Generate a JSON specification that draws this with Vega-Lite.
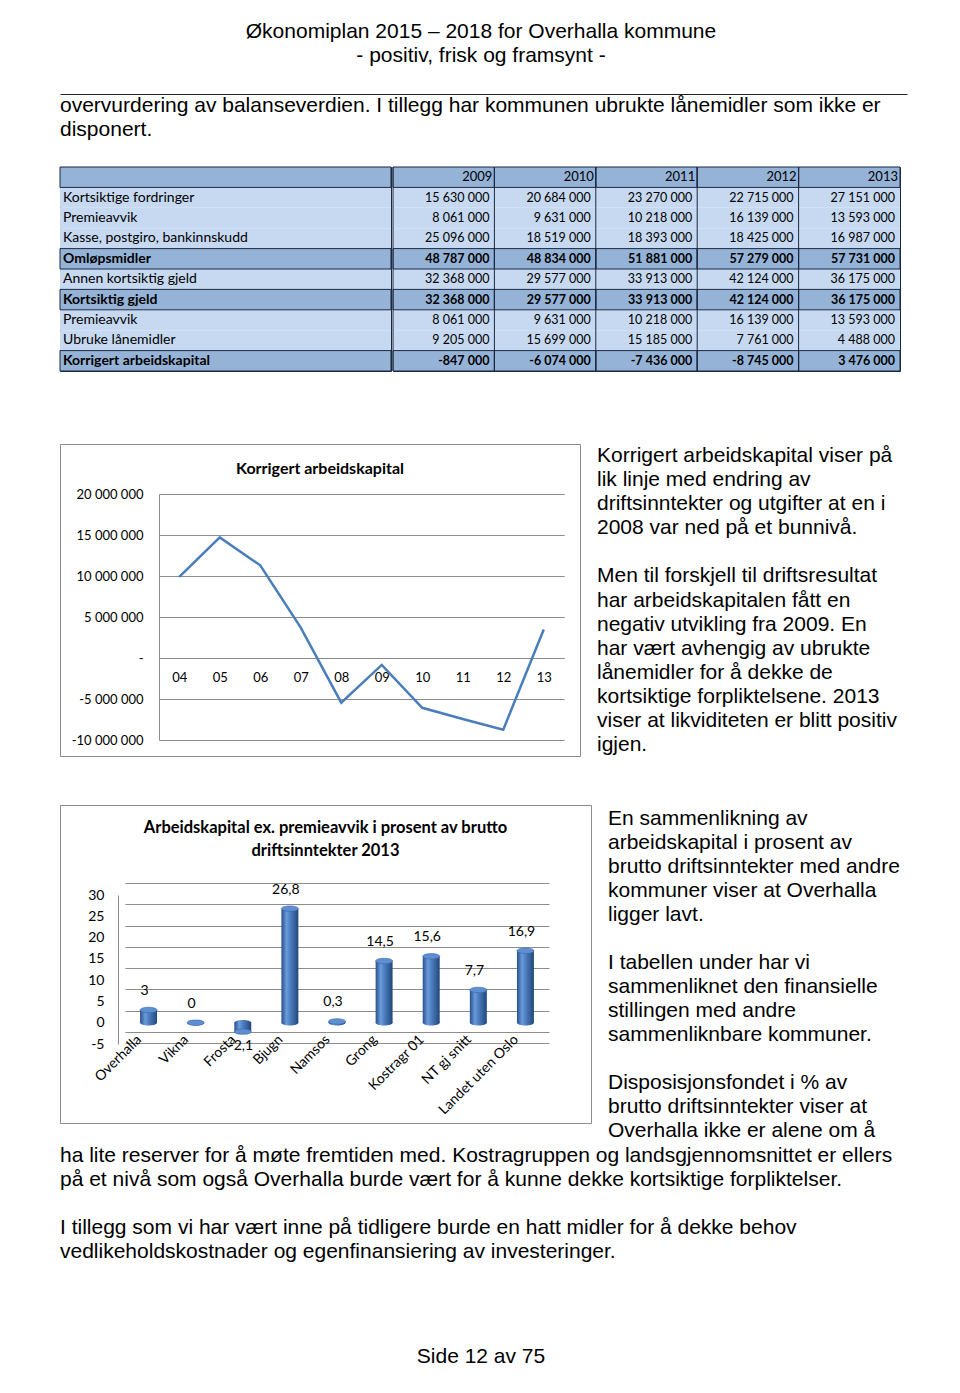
{
  "$schema": "https://vega.github.io/schema/vega-lite/v6.json",
  "padding": {"left": 59, "top": 20, "right": 0, "bottom": 0},
  "background": "white",
  "spacing": 0,
  "config": {
    "view": {"stroke": null},
    "locale": {"number": {"decimal": ",", "thousands": " ", "grouping": [3], "currency": ["", " kr"], "minus": "-"}},
    "axis": {"labelFont": "Lato", "labelColor": "#000", "title": null}
  },
  "datasets": {
    "t_header": [
      {"i": 0, "t": "Økonomiplan 2015 – 2018 for Overhalla kommune"},
      {"i": 1, "t": "- positiv, frisk og framsynt -"}
    ],
    "t_body": [
      {"i": 0, "t": "overvurdering av balanseverdien. I tillegg har kommunen ubrukte lånemidler som ikke er"},
      {"i": 1, "t": "disponert."}
    ],
    "t_right1": [
      {"i": 0, "t": "Korrigert arbeidskapital viser på"},
      {"i": 1, "t": "lik linje med endring av"},
      {"i": 2, "t": "driftsinntekter og utgifter at en i"},
      {"i": 3, "t": "2008 var ned på et bunnivå."},
      {"i": 4, "t": ""},
      {"i": 5, "t": "Men til forskjell til driftsresultat"},
      {"i": 6, "t": "har arbeidskapitalen fått en"},
      {"i": 7, "t": "negativ utvikling fra 2009. En"},
      {"i": 8, "t": "har vært avhengig av ubrukte"},
      {"i": 9, "t": "lånemidler for å dekke de"},
      {"i": 10, "t": "kortsiktige forpliktelsene. 2013"},
      {"i": 11, "t": "viser at likviditeten er blitt positiv"},
      {"i": 12, "t": "igjen."}
    ],
    "t_right2": [
      {"i": 0, "t": "En sammenlikning av"},
      {"i": 1, "t": "arbeidskapital i prosent av"},
      {"i": 2, "t": "brutto driftsinntekter med andre"},
      {"i": 3, "t": "kommuner viser at Overhalla"},
      {"i": 4, "t": "ligger lavt."},
      {"i": 5, "t": ""},
      {"i": 6, "t": "I tabellen under har vi"},
      {"i": 7, "t": "sammenliknet den finansielle"},
      {"i": 8, "t": "stillingen med andre"},
      {"i": 9, "t": "sammenliknbare kommuner."},
      {"i": 10, "t": ""},
      {"i": 11, "t": "Disposisjonsfondet i % av"},
      {"i": 12, "t": "brutto driftsinntekter viser at"},
      {"i": 13, "t": "Overhalla ikke er alene om å"}
    ],
    "t_bottom": [
      {"i": 0, "t": "ha lite reserver for å møte fremtiden med. Kostragruppen og landsgjennomsnittet er ellers"},
      {"i": 1, "t": "på et nivå som også Overhalla burde vært for å kunne dekke kortsiktige forpliktelser."},
      {"i": 2, "t": ""},
      {"i": 3, "t": "I tillegg som vi har vært inne på tidligere burde en hatt midler for å dekke behov"},
      {"i": 4, "t": "vedlikeholdskostnader og egenfinansiering av investeringer."}
    ],
    "t_footer": [
      {"i": 0, "t": "Side 12 av 75"}
    ],
    "rows": [
      {"r": 0, "label": "", "kind": "h"},
      {"r": 1, "label": "Kortsiktige fordringer", "kind": "n"},
      {"r": 2, "label": "Premieavvik", "kind": "n"},
      {"r": 3, "label": "Kasse, postgiro, bankinnskudd", "kind": "n"},
      {"r": 4, "label": "Omløpsmidler", "kind": "b"},
      {"r": 5, "label": "Annen kortsiktig gjeld", "kind": "n"},
      {"r": 6, "label": "Kortsiktig gjeld", "kind": "b"},
      {"r": 7, "label": "Premieavvik", "kind": "n"},
      {"r": 8, "label": "Ubruke lånemidler", "kind": "n"},
      {"r": 9, "label": "Korrigert arbeidskapital", "kind": "b"}
    ],
    "celler": [
      {"r": 0, "aar": "2009", "kind": "h"},
      {"r": 0, "aar": "2010", "kind": "h"},
      {"r": 0, "aar": "2011", "kind": "h"},
      {"r": 0, "aar": "2012", "kind": "h"},
      {"r": 0, "aar": "2013", "kind": "h"},
      {"r": 1, "aar": "2009", "v": 15630000, "kind": "n"},
      {"r": 1, "aar": "2010", "v": 20684000, "kind": "n"},
      {"r": 1, "aar": "2011", "v": 23270000, "kind": "n"},
      {"r": 1, "aar": "2012", "v": 22715000, "kind": "n"},
      {"r": 1, "aar": "2013", "v": 27151000, "kind": "n"},
      {"r": 2, "aar": "2009", "v": 8061000, "kind": "n"},
      {"r": 2, "aar": "2010", "v": 9631000, "kind": "n"},
      {"r": 2, "aar": "2011", "v": 10218000, "kind": "n"},
      {"r": 2, "aar": "2012", "v": 16139000, "kind": "n"},
      {"r": 2, "aar": "2013", "v": 13593000, "kind": "n"},
      {"r": 3, "aar": "2009", "v": 25096000, "kind": "n"},
      {"r": 3, "aar": "2010", "v": 18519000, "kind": "n"},
      {"r": 3, "aar": "2011", "v": 18393000, "kind": "n"},
      {"r": 3, "aar": "2012", "v": 18425000, "kind": "n"},
      {"r": 3, "aar": "2013", "v": 16987000, "kind": "n"},
      {"r": 4, "aar": "2009", "v": 48787000, "kind": "b"},
      {"r": 4, "aar": "2010", "v": 48834000, "kind": "b"},
      {"r": 4, "aar": "2011", "v": 51881000, "kind": "b"},
      {"r": 4, "aar": "2012", "v": 57279000, "kind": "b"},
      {"r": 4, "aar": "2013", "v": 57731000, "kind": "b"},
      {"r": 5, "aar": "2009", "v": 32368000, "kind": "n"},
      {"r": 5, "aar": "2010", "v": 29577000, "kind": "n"},
      {"r": 5, "aar": "2011", "v": 33913000, "kind": "n"},
      {"r": 5, "aar": "2012", "v": 42124000, "kind": "n"},
      {"r": 5, "aar": "2013", "v": 36175000, "kind": "n"},
      {"r": 6, "aar": "2009", "v": 32368000, "kind": "b"},
      {"r": 6, "aar": "2010", "v": 29577000, "kind": "b"},
      {"r": 6, "aar": "2011", "v": 33913000, "kind": "b"},
      {"r": 6, "aar": "2012", "v": 42124000, "kind": "b"},
      {"r": 6, "aar": "2013", "v": 36175000, "kind": "b"},
      {"r": 7, "aar": "2009", "v": 8061000, "kind": "n"},
      {"r": 7, "aar": "2010", "v": 9631000, "kind": "n"},
      {"r": 7, "aar": "2011", "v": 10218000, "kind": "n"},
      {"r": 7, "aar": "2012", "v": 16139000, "kind": "n"},
      {"r": 7, "aar": "2013", "v": 13593000, "kind": "n"},
      {"r": 8, "aar": "2009", "v": 9205000, "kind": "n"},
      {"r": 8, "aar": "2010", "v": 15699000, "kind": "n"},
      {"r": 8, "aar": "2011", "v": 15185000, "kind": "n"},
      {"r": 8, "aar": "2012", "v": 7761000, "kind": "n"},
      {"r": 8, "aar": "2013", "v": 4488000, "kind": "n"},
      {"r": 9, "aar": "2009", "v": -847000, "kind": "b"},
      {"r": 9, "aar": "2010", "v": -6074000, "kind": "b"},
      {"r": 9, "aar": "2011", "v": -7436000, "kind": "b"},
      {"r": 9, "aar": "2012", "v": -8745000, "kind": "b"},
      {"r": 9, "aar": "2013", "v": 3476000, "kind": "b"}
    ],
    "linje": [
      {"aar": "04", "verdi": 9900000},
      {"aar": "05", "verdi": 14700000},
      {"aar": "06", "verdi": 11300000},
      {"aar": "07", "verdi": 3700000},
      {"aar": "08", "verdi": -5450000},
      {"aar": "09", "verdi": -847000},
      {"aar": "10", "verdi": -6074000},
      {"aar": "11", "verdi": -7436000},
      {"aar": "12", "verdi": -8745000},
      {"aar": "13", "verdi": 3476000}
    ],
    "stolper": [
      {"kommune": "Overhalla", "v": 3},
      {"kommune": "Vikna", "v": 0},
      {"kommune": "Frosta", "v": -2.1},
      {"kommune": "Bjugn", "v": 26.8},
      {"kommune": "Namsos", "v": 0.3},
      {"kommune": "Grong", "v": 14.5},
      {"kommune": "Kostragr 01", "v": 15.6},
      {"kommune": "NT gj snitt", "v": 7.7},
      {"kommune": "Landet uten Oslo", "v": 16.9}
    ]
  },
  "vconcat": [
    {
      "width": 842, "height": 48,
      "data": {"name": "t_header"},
      "mark": {"type": "text", "align": "center", "baseline": "middle", "font": "Liberation Sans", "fontSize": 21, "color": "#000"},
      "encoding": {
        "x": {"datum": "c", "type": "nominal", "scale": {"type": "band", "paddingInner": 0, "paddingOuter": 0}, "axis": null, "bandPosition": 0.5},
        "y": {"field": "i", "type": "ordinal", "scale": {"type": "band", "paddingInner": 0, "paddingOuter": 0}, "axis": null, "bandPosition": 0.5},
        "text": {"field": "t"}
      }
    },
    {
      "width": 1, "height": 26,
      "data": {"values": [{}]},
      "mark": {"type": "text", "fontSize": 1},
      "encoding": {"text": {"value": ""}}
    },
    {
      "width": 847, "height": 48,
      "data": {"name": "t_body"},
      "mark": {"type": "text", "align": "left", "baseline": "middle", "font": "Liberation Sans", "fontSize": 21, "color": "#000"},
      "encoding": {
        "x": {"datum": "c", "type": "nominal", "scale": {"type": "band", "paddingInner": 0, "paddingOuter": 0}, "bandPosition": 0,
          "axis": {"orient": "top", "labels": false, "ticks": false, "domain": true, "domainColor": "#222", "domainWidth": 1, "grid": false, "title": null}},
        "y": {"field": "i", "type": "ordinal", "scale": {"type": "band", "paddingInner": 0, "paddingOuter": 0}, "axis": null, "bandPosition": 0.5},
        "text": {"field": "t"}
      }
    },
    {
      "width": 1, "height": 24,
      "data": {"values": [{}]},
      "mark": {"type": "text", "fontSize": 1},
      "encoding": {"text": {"value": ""}}
    },
    {
      "spacing": 0,
      "hconcat": [
        {
          "width": 331, "height": 204,
          "view": {"stroke": "#1b2840", "strokeWidth": 1},
          "data": {"name": "rows"},
          "layer": [
            {
              "mark": {"type": "rect"},
              "encoding": {
                "x": {"datum": "L", "type": "nominal", "scale": {"type": "band", "paddingInner": 0, "paddingOuter": 0}, "axis": null},
                "y": {"field": "r", "type": "ordinal", "scale": {"type": "band", "paddingInner": 0, "paddingOuter": 0}, "axis": null},
                "color": {"field": "kind", "type": "nominal", "scale": {"domain": ["h", "n", "b"], "range": ["#95B3D7", "#C6D9F1", "#95B3D7"]}, "legend": null}
              }
            },
            {
              "transform": [{"filter": "datum.kind !== 'n'"}],
              "mark": {"type": "rect", "filled": false, "color": "#1b2840", "strokeWidth": 1},
              "encoding": {
                "x": {"datum": "L", "type": "nominal"},
                "y": {"field": "r", "type": "ordinal"}
              }
            },
            {
              "transform": [{"filter": "datum.kind === 'n'"}],
              "mark": {"type": "text", "align": "left", "baseline": "middle", "dx": 3, "font": "Lato", "fontSize": 14, "color": "#000"},
              "encoding": {
                "x": {"datum": "L", "type": "nominal", "bandPosition": 0},
                "y": {"field": "r", "type": "ordinal", "bandPosition": 0.5},
                "text": {"field": "label"}
              }
            },
            {
              "transform": [{"filter": "datum.kind === 'b'"}],
              "mark": {"type": "text", "align": "left", "baseline": "middle", "dx": 3, "font": "Lato", "fontSize": 14, "fontWeight": "bold", "color": "#000"},
              "encoding": {
                "x": {"datum": "L", "type": "nominal", "bandPosition": 0},
                "y": {"field": "r", "type": "ordinal", "bandPosition": 0.5},
                "text": {"field": "label"}
              }
            }
          ]
        },
        {
          "width": 507, "height": 204,
          "view": {"stroke": "#1b2840", "strokeWidth": 1},
          "data": {"name": "celler"},
          "layer": [
            {
              "mark": {"type": "rect"},
              "encoding": {
                "x": {"field": "aar", "type": "ordinal", "scale": {"type": "band", "paddingInner": 0, "paddingOuter": 0}, "axis": null},
                "y": {"field": "r", "type": "ordinal", "scale": {"type": "band", "paddingInner": 0, "paddingOuter": 0}, "axis": null},
                "color": {"field": "kind", "type": "nominal", "scale": {"domain": ["h", "n", "b"], "range": ["#95B3D7", "#C6D9F1", "#95B3D7"]}, "legend": null}
              }
            },
            {
              "transform": [{"filter": "datum.kind !== 'n'"}],
              "mark": {"type": "rect", "filled": false, "color": "#1b2840", "strokeWidth": 1},
              "encoding": {
                "x": {"field": "aar", "type": "ordinal"},
                "y": {"field": "r", "type": "ordinal"}
              }
            },
            {
              "transform": [{"filter": "datum.kind === 'h'"}],
              "mark": {"type": "rule", "color": "#1b2840", "strokeWidth": 1},
              "encoding": {
                "x": {"field": "aar", "type": "ordinal", "bandPosition": 0}
              }
            },
            {
              "transform": [{"filter": "datum.kind === 'h'"}],
              "mark": {"type": "text", "align": "right", "baseline": "middle", "dx": -2, "font": "Lato", "fontSize": 13, "color": "#000"},
              "encoding": {
                "x": {"field": "aar", "type": "ordinal", "bandPosition": 1},
                "y": {"field": "r", "type": "ordinal", "bandPosition": 0.5},
                "text": {"field": "aar"}
              }
            },
            {
              "transform": [{"filter": "datum.kind === 'n'"}],
              "mark": {"type": "text", "align": "right", "baseline": "middle", "dx": -5, "font": "Lato", "fontSize": 12.5, "color": "#000"},
              "encoding": {
                "x": {"field": "aar", "type": "ordinal", "bandPosition": 1},
                "y": {"field": "r", "type": "ordinal", "bandPosition": 0.5},
                "text": {"field": "v", "type": "quantitative", "format": ",d"}
              }
            },
            {
              "transform": [{"filter": "datum.kind === 'b'"}],
              "mark": {"type": "text", "align": "right", "baseline": "middle", "dx": -5, "font": "Lato", "fontSize": 12.5, "fontWeight": "bold", "color": "#000"},
              "encoding": {
                "x": {"field": "aar", "type": "ordinal", "bandPosition": 1},
                "y": {"field": "r", "type": "ordinal", "bandPosition": 0.5},
                "text": {"field": "v", "type": "quantitative", "format": ",d"}
              }
            }
          ]
        }
      ]
    },
    {
      "width": 1, "height": 71,
      "data": {"values": [{}]},
      "mark": {"type": "text", "fontSize": 1},
      "encoding": {"text": {"value": ""}}
    },
    {
      "spacing": 16,
      "hconcat": [
        {
          "width": 520, "height": 312,
          "view": {"stroke": "#8c8c8c", "strokeWidth": 1},
          "title": {"text": "Korrigert arbeidskapital", "font": "Lato", "fontSize": 16, "fontWeight": "bold", "color": "#000", "anchor": "middle", "offset": -33},
          "data": {"name": "linje"},
          "mark": {"type": "line", "color": "#4A7EBB", "strokeWidth": 2.5},
          "encoding": {
            "x": {"field": "aar", "type": "ordinal", "scale": {"type": "point", "range": [99, 504], "padding": 0.5},
              "axis": {"orient": "bottom", "offset": -98, "ticks": false, "domain": true, "domainColor": "#8c8c8c", "labelAngle": 0, "labelPadding": 13, "labelFontSize": 13, "labelBaseline": "top", "grid": false, "title": null}},
            "y": {"field": "verdi", "type": "quantitative", "scale": {"domain": [-10000000, 20000000], "range": [296, 50], "nice": false, "zero": false},
              "axis": {"orient": "left", "offset": -99, "values": [-10000000, -5000000, 0, 5000000, 10000000, 15000000, 20000000], "ticks": false, "domain": true, "domainColor": "#8c8c8c", "grid": true, "gridColor": "#8c8c8c", "gridOpacity": 1, "labelPadding": 16, "labelFontSize": 13, "format": ",d", "labelExpr": "datum.value === 0 ? '-\u00a0\u00a0\u00a0' : datum.label", "title": null}}
          }
        },
        {
          "width": 300, "height": 313,
          "data": {"name": "t_right1"},
          "mark": {"type": "text", "align": "left", "baseline": "middle", "font": "Liberation Sans", "fontSize": 21, "color": "#000"},
          "encoding": {
            "x": {"datum": "c", "type": "nominal", "scale": {"type": "band", "paddingInner": 0, "paddingOuter": 0}, "axis": null, "bandPosition": 0},
            "y": {"field": "i", "type": "ordinal", "scale": {"type": "band", "paddingInner": 0, "paddingOuter": 0}, "axis": null, "bandPosition": 0.5},
            "text": {"field": "t"}
          }
        }
      ]
    },
    {
      "width": 1, "height": 47,
      "data": {"values": [{}]},
      "mark": {"type": "text", "fontSize": 1},
      "encoding": {"text": {"value": ""}}
    },
    {
      "spacing": 16,
      "hconcat": [
        {
          "width": 531, "height": 318,
          "view": {"stroke": "#8c8c8c", "strokeWidth": 1},
          "title": {"text": ["Arbeidskapital ex. premieavvik i prosent av brutto", "driftsinntekter 2013"], "font": "Lato", "fontSize": 16.5, "fontWeight": "bold", "color": "#000", "anchor": "middle", "lineHeight": 23, "offset": -54},
          "data": {"name": "stolper"},
          "resolve": {"scale": {"y": "independent"}, "axis": {"y": "independent"}},
          "encoding": {
            "x": {"field": "kommune", "type": "nominal",
              "sort": ["Overhalla", "Vikna", "Frosta", "Bjugn", "Namsos", "Grong", "Kostragr 01", "NT gj snitt", "Landet uten Oslo"],
              "scale": {"type": "band", "range": [65, 489], "paddingInner": 0.64, "paddingOuter": 0.32},
              "axis": {"orient": "bottom", "offset": -80, "ticks": false, "domain": true, "domainColor": "#8c8c8c", "labels": false, "grid": false, "title": null}}
          },
          "layer": [
            {
              "mark": {"type": "point", "opacity": 0},
              "encoding": {
                "y": {"field": "v", "type": "quantitative", "scale": {"domain": [-5, 30], "range": [227, 78], "nice": false, "zero": false},
                  "axis": {"orient": "left", "values": [-5, 0, 5, 10, 15, 20, 25, 30], "grid": true, "gridColor": "#8c8c8c", "gridOpacity": 1, "labels": false, "ticks": false, "domain": false, "title": null}}
              }
            },
            {
              "encoding": {
                "y": {"field": "v", "type": "quantitative", "scale": {"domain": [-5, 30], "range": [239, 90], "nice": false},
                  "axis": {"orient": "left", "offset": -58, "values": [-5, 0, 5, 10, 15, 20, 25, 30], "grid": false, "ticks": false, "domain": true, "domainColor": "#8c8c8c", "labelPadding": 14, "labelFontSize": 14, "title": null}}
              },
              "layer": [
                {
                  "mark": {"type": "point", "filled": true, "opacity": 1, "size": 289,
                    "shape": "M -1 0 A 1 0.32 0 1 1 1 0 A 1 0.32 0 1 1 -1 0 Z",
                    "color": {"gradient": "linear", "x1": 0, "y1": 0, "x2": 1, "y2": 0, "stops": [{"offset": 0, "color": "#27508A"}, {"offset": 0.3, "color": "#6A9BDA"}, {"offset": 0.5, "color": "#4F80C2"}, {"offset": 1, "color": "#22477A"}]}},
                  "encoding": {"y": {"datum": 0, "type": "quantitative"}}
                },
                {
                  "mark": {"type": "bar",
                    "color": {"gradient": "linear", "x1": 0, "y1": 0, "x2": 1, "y2": 0, "stops": [{"offset": 0, "color": "#27508A"}, {"offset": 0.3, "color": "#6A9BDA"}, {"offset": 0.5, "color": "#4F80C2"}, {"offset": 1, "color": "#22477A"}]}}
                },
                {
                  "mark": {"type": "point", "filled": true, "opacity": 1, "size": 289,
                    "shape": "M -1 0 A 1 0.32 0 1 1 1 0 A 1 0.32 0 1 1 -1 0 Z",
                    "color": "#5E8FD2", "stroke": "#3A68A8", "strokeWidth": 0.6}
                },
                {
                  "transform": [{"filter": "datum.v >= 0"}],
                  "mark": {"type": "text", "baseline": "bottom", "dy": -12, "dx": -4, "font": "Lato", "fontSize": 14, "color": "#000"},
                  "encoding": {"text": {"field": "v", "type": "quantitative", "format": "~f"}}
                },
                {
                  "transform": [{"filter": "datum.v < 0"}],
                  "mark": {"type": "text", "baseline": "top", "dy": 7, "dx": -2, "font": "Lato", "fontSize": 14, "color": "#000"},
                  "encoding": {"text": {"field": "v", "type": "quantitative", "format": "~f"}}
                },
                {
                  "mark": {"type": "text", "angle": 315, "align": "right", "baseline": "middle", "dx": -2, "dy": -11, "font": "Lato", "fontSize": 14, "color": "#000"},
                  "encoding": {"y": {"datum": -5, "type": "quantitative"}, "text": {"field": "kommune"}}
                }
              ]
            }
          ]
        },
        {
          "width": 300, "height": 336,
          "data": {"name": "t_right2"},
          "mark": {"type": "text", "align": "left", "baseline": "middle", "font": "Liberation Sans", "fontSize": 21, "color": "#000"},
          "encoding": {
            "x": {"datum": "c", "type": "nominal", "scale": {"type": "band", "paddingInner": 0, "paddingOuter": 0}, "axis": null, "bandPosition": 0},
            "y": {"field": "i", "type": "ordinal", "scale": {"type": "band", "paddingInner": 0, "paddingOuter": 0, "range": [2, 338]}, "axis": null, "bandPosition": 0.5},
            "text": {"field": "t"}
          }
        }
      ]
    },
    {
      "width": 1, "height": 3,
      "data": {"values": [{}]},
      "mark": {"type": "text", "fontSize": 1},
      "encoding": {"text": {"value": ""}}
    },
    {
      "width": 847, "height": 120,
      "data": {"name": "t_bottom"},
      "mark": {"type": "text", "align": "left", "baseline": "middle", "font": "Liberation Sans", "fontSize": 21, "color": "#000"},
      "encoding": {
        "x": {"datum": "c", "type": "nominal", "scale": {"type": "band", "paddingInner": 0, "paddingOuter": 0}, "axis": null, "bandPosition": 0},
        "y": {"field": "i", "type": "ordinal", "scale": {"type": "band", "paddingInner": 0, "paddingOuter": 0}, "axis": null, "bandPosition": 0.5},
        "text": {"field": "t"}
      }
    },
    {
      "width": 1, "height": 81,
      "data": {"values": [{}]},
      "mark": {"type": "text", "fontSize": 1},
      "encoding": {"text": {"value": ""}}
    },
    {
      "width": 842, "height": 24,
      "data": {"name": "t_footer"},
      "mark": {"type": "text", "align": "center", "baseline": "middle", "font": "Liberation Sans", "fontSize": 21, "color": "#000"},
      "encoding": {
        "x": {"datum": "c", "type": "nominal", "scale": {"type": "band", "paddingInner": 0, "paddingOuter": 0}, "axis": null, "bandPosition": 0.5},
        "y": {"field": "i", "type": "ordinal", "scale": {"type": "band", "paddingInner": 0, "paddingOuter": 0}, "axis": null, "bandPosition": 0.5},
        "text": {"field": "t"}
      }
    }
  ]
}
